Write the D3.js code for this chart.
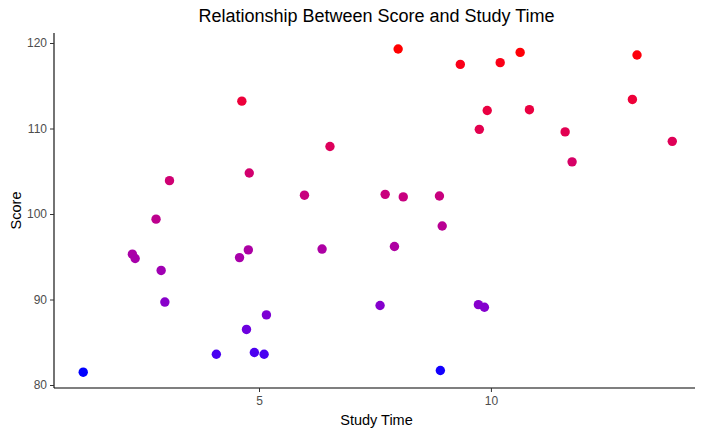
<!DOCTYPE html>
<html><head><meta charset="utf-8">
<script src="https://cdn.jsdelivr.net/npm/d3@7"></script>
<style>body{margin:0;background:#fff}svg{display:block;font-family:"Liberation Sans",Arial,sans-serif}</style>
</head><body>
<svg id="c" width="709" height="435"></svg>
<script>
const studyTime = [1.21,2.27,2.33,2.78,2.89,2.97,3.07,4.08,4.58,4.63,4.73,4.77,4.79,4.90,5.11,5.16,5.98,6.36,6.53,7.61,7.72,7.92,8.00,8.11,8.89,8.91,8.95,9.34,9.75,9.73,9.86,9.92,10.20,10.63,10.83,11.60,11.75,13.05,13.15,13.91];
const score = [81.5,95.3,94.8,99.4,93.4,89.7,103.9,83.6,94.9,113.2,86.5,95.8,104.8,83.8,83.6,88.2,102.2,95.9,107.9,89.3,102.3,96.2,119.3,102.0,102.1,81.7,98.6,117.5,109.9,89.4,89.1,112.1,117.7,118.9,112.2,109.6,106.1,113.4,118.6,108.5];
const xTicks = [5,10];
const yTicks = [80,90,100,110,120];
const xDomain = [0.58, 14.40];
const yDomain = [79.65, 121.17];
const titleText = "Relationship Between Score and Study Time";

const svg = d3.select("#c");
const L=54, R=695, T=33, B=388;
const x = d3.scaleLinear().domain(xDomain).range([L,R]);
const y = d3.scaleLinear().domain(yDomain).range([B,T]);
const col = d3.scaleLinear().domain(d3.extent(score)).range(["blue","red"]).interpolate(d3.interpolateLab);

const data = studyTime.map((t,i)=>({t, s:score[i]}));
svg.append("g").selectAll("circle").data(data).join("circle")
  .attr("cx",d=>x(d.t)).attr("cy",d=>y(d.s)).attr("r",4.7)
  .attr("fill",d=>col(d.s));

const xa = svg.append("g").attr("transform",`translate(0,${B})`)
  .call(d3.axisBottom(x).tickValues(xTicks).tickSize(4).tickPadding(4).tickSizeOuter(0));
const ya = svg.append("g").attr("transform",`translate(${L},0)`)
  .call(d3.axisLeft(y).tickValues(yTicks).tickSize(4).tickPadding(3).tickSizeOuter(0));
[xa,ya].forEach(a=>{
  a.select(".domain").attr("stroke","#000").attr("stroke-width",1.1);
  a.selectAll(".tick line").attr("stroke","#333");
  a.selectAll(".tick text").attr("fill","#4d4d4d").attr("font-size",12).attr("font-family","Liberation Sans, Arial, sans-serif");
});
ya.select(".domain").attr("d",`M0,${T}V${B}`);
xa.select(".domain").attr("d",`M${L},0H${R}`);

svg.append("text").attr("x",376.5).attr("y",22).attr("text-anchor","middle")
  .attr("font-size",18).attr("fill","#000").text(titleText);
svg.append("text").attr("x",(L+R)/2+2).attr("y",425).attr("text-anchor","middle")
  .attr("font-size",14.5).attr("fill","#000").text("Study Time");
svg.append("text").attr("transform",`translate(21,${(T+B)/2}) rotate(-90)`).attr("text-anchor","middle")
  .attr("font-size",14.5).attr("fill","#000").text("Score");
</script>
</body></html>
